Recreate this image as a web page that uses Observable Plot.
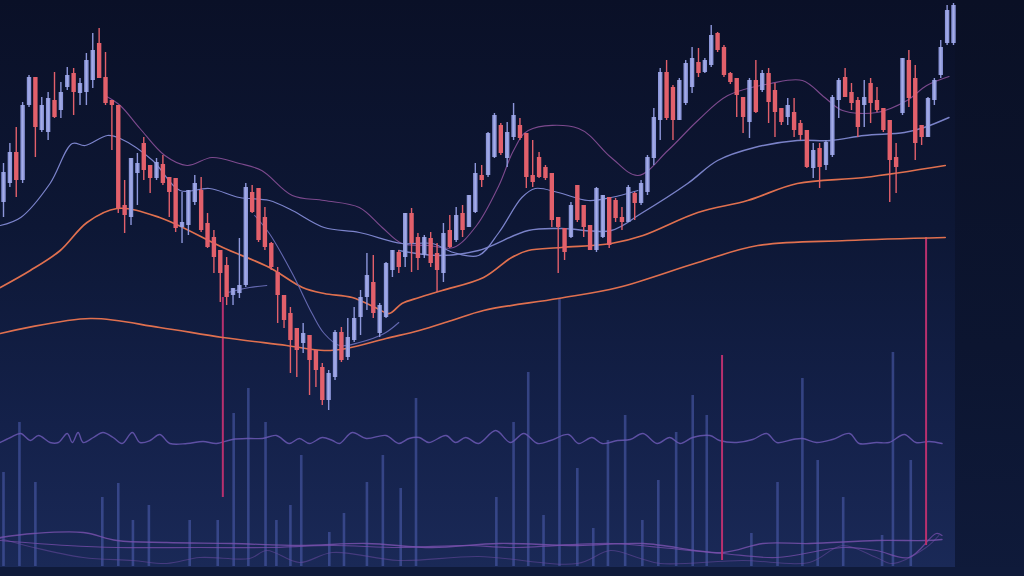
<!DOCTYPE html>
<html><head><meta charset="utf-8">
<script src="https://cdn.jsdelivr.net/npm/d3@7"></script>
<script src="https://cdn.jsdelivr.net/npm/@observablehq/plot@0.6"></script>
<style>
html,body{margin:0;padding:0;background:#0a1026;}
#wrap{position:relative;width:1024px;height:576px;overflow:hidden;background:linear-gradient(180deg,#0a1025 0%,#0c1530 60%,#0f1a3a 100%);}
#panel{position:absolute;left:0;top:0;width:955px;height:567px;background:linear-gradient(180deg,#0a1027 0%,#0d1735 40%,#14214a 75%,#1a2957 100%);}
#bottom{position:absolute;left:0;top:567px;width:1024px;height:9px;background:#0f1a3a;}
svg.layer{position:absolute;left:0;top:0;}
</style></head><body><div id="wrap"><div id="panel"></div><div id="bottom"></div></div>
<script>
// ---- candles (index 0..149) ----
const open = [374,393,424,396,471,499,446,444,476,466, 489,503,483,484,496,533,499,476,471,371,
 359,403,433,411,398,412,399,398,349,351, 374,386,353,339,326,311,281,283,291,384,
 388,359,333,304,281,263,248,233,241,226, 209,176,199,244,219,236,259,279,294,243,
 259,306,324,319,363,339,321,338,323,303, 346,336,363,349,364,401,401,419,451,418,
 439,451,443,401,419,409,403,359,348,339, 391,371,351,326,339,379,376,359,354,383,
 373,384,418,456,504,489,456,473,489,514, 504,511,543,529,503,498,479,454,496,486,
 503,486,468,459,464,453,446,408,428,411, 421,476,499,484,476,471,493,476,468,456,
 419,463,516,498,451,439,476,501,533,533];
const high = [413,433,449,474,501,499,479,484,504,494, 509,508,498,523,543,548,524,476,471,396,
 418,423,439,411,418,421,399,398,384,386, 401,399,363,346,326,319,288,338,393,391,
 388,369,334,309,281,269,248,253,241,226, 213,206,246,249,258,269,286,323,321,273,
 314,326,326,363,368,343,341,344,333,353, 361,369,371,381,413,411,444,463,453,454,
 473,458,443,436,424,411,403,359,348,374, 391,371,351,389,381,379,378,369,391,384,
 396,421,468,508,516,491,498,516,529,528, 518,551,544,531,504,498,479,498,516,506,
 508,493,468,478,478,456,446,433,433,436, 481,498,508,493,479,496,498,489,468,456,
 433,518,526,511,451,479,498,536,571,573];
const low = [359,389,379,393,469,419,444,436,458,458, 486,461,471,471,488,498,471,426,363,343,
 351,371,396,383,396,391,359,344,333,341, 371,344,328,303,274,271,271,278,289,363,
 334,326,306,253,248,203,199,223,181,189, 171,166,196,214,216,234,241,266,258,239,
 258,299,303,309,304,306,318,309,284,294, 328,334,339,349,363,389,399,418,421,409,
 436,436,388,389,398,396,349,303,316,338, 354,339,326,324,338,328,354,346,354,356,
 371,381,411,436,456,436,456,471,483,499, 503,509,524,499,492,459,443,438,463,484,
 453,439,451,451,439,436,408,398,388,406, 419,458,479,466,439,449,453,464,444,374,
 383,461,469,416,431,439,471,498,531,531];
const close = [404,424,396,471,499,449,471,478,459,484, 501,484,493,516,526,498,473,471,368,361,
 418,413,406,398,414,393,384,348,354,386, 393,346,329,319,303,279,288,291,389,364,
 336,329,309,281,256,236,226,243,216,206, 176,203,244,216,239,258,279,301,263,271,
 313,326,309,363,333,318,339,313,306,343, 329,361,346,381,403,396,443,461,423,444,
 461,438,399,394,399,398,356,349,324,371, 356,349,326,388,381,331,358,354,389,373,
 393,419,459,504,458,456,496,513,518,503, 516,541,526,501,494,481,459,496,464,503,
 474,464,454,471,446,441,409,426,409,434, 479,496,479,473,449,479,473,466,446,416,
 409,518,478,433,439,478,496,529,566,571];

// ---- moving averages / bands (x = bar index, y = price) ----
const maSlowT = [-0.5,13.6,24.5,34.4,44.4,50.3,53.8,60,65.2,70.3,75.3,87,96.4,108.9,118.3,132.3,147.7];
const maSlowV = [243,258,249,239,231,226,228,238,246,256,266,278,289,314,331,336,339];
const maMidT = [-0.5,4.2,8.9,13.1,17.8,24.5,34.4,41.7,46.9,50.3,54.7,58.6,60.5,62.5,65.2,68.8,75.3,79.7,82.3,87.5,95.3,100.3,108.9,116.7,124.5,135,147.7];
const maMidV = [289,306,326,354,368,359,329,309,289,283,279,268,263,273,279,286,299,319,326,329,333,341,364,376,393,399,411];
const upperT = [15.9,18.3,21.4,25.3,28.8,32.7,37,40.5,45.3,50.3,55.8,59.4,62.5,66.7,70.6,74.2,77.7,80,82.3,90.2,95.3,99.5,104.2,108.9,113.6,120.3,125.3,128.8,131.6,137,141.7,144.8,148.3];
const upperV = [481,471,448,421,411,419,413,406,381,376,369,349,333,331,329,351,391,426,446,448,419,401,426,456,481,493,496,479,466,464,476,491,500];
const fastT = [-0.5,2.7,7.3,10.8,12.8,16.3,18.3,23.4,27.7,32.3,37,41.7,45.3,50.3,55.8,62.5,67.2,70.6,74.5,77.7,81.3,83.4,87,91.7,95.3,99.5];
const fastV = [351,359,393,433,431,441,438,416,386,388,379,376,366,349,344,333,333,324,321,344,379,388,384,376,379,386];
const baseT = [62,68.3,74.5,82.3,87.5,95.3,100,107.3,112,117.8,124.5,129.7,135,141.3,144.4,148.3];
const baseV = [326,321,326,346,348,346,363,393,416,429,436,436,441,444,449,459];
const lowerT = [39.4,41.7,45.3,48.4,50.3,52.7,55.8,59.7,62];
const lowerV = [361,343,303,263,243,231,234,243,254];
const lower2T = [35.2,38.6,41.3];
const lower2V = [284,289,291];

// ---- spikes ----
const spikeT = [34.4,112.7,144.7];
const spikeHi = [279,221,339];
const spikeLo = [79,16,31];

// ---- volume ----
const volT = [0,2.5,5,15.5,18,20.3,22.8,29.2,33.6,36.1,38.4,41.1,42.8,45,46.7,51.1,53.4,57,59.5,62.3,64.7,77.3,80,82.3,84.7,87.2,90,92.5,94.8,97.5,100.2,102.7,105.5,108.1,110.3,117.3,121.4,125.3,127.7,131.7,137.8,139.5,142.3];
const volV = [94,144,84,69,83,46,61,46,46,153,178,144,46,61,111,34,53,84,111,78,168,69,144,194,51,268,98,38,126,151,46,86,134,171,151,33,84,188,106,69,31,214,106];

// ---- oscillator ----
const oscT = [-0.5,1.1,2.7,4.2,5.5,7.3,8.6,10,10.8,11.7,12.5,14.1,15.6,17.2,18.6,20.2,21.4,23,24.5,26.1,28.8,31.3,33.4,35.9,38.6,40.6,42.8,44.8,46.4,48,50,51.6,52.7,54.7,56.9,60,62,63.6,65.2,66.7,69.4,70.9,72.5,74.5,77.2,79.5,81.6,83.8,85.8,88.6,90.2,92.3,93.9,96.3,98.3,100.3,102.5,104.5,106.1,108.1,110.8,112.3,115,117.5,119.7,121.3,123.8,125.3,127.5,130,132.7,134.2,136.9,138.9,141.3,143.1,145.2,147.2];
const oscV = [4,9,13,6,11,4,4,13,4,14,4,9,14,9,3,14,4,6,12,3,3,5,3,7,8,8,11,3,8,3,9,6,3,14,8,11,3,8,9,4,11,4,9,3,16,4,13,3,6,12,3,9,3,6,7,13,3,9,3,9,11,6,4,7,13,4,7,8,4,7,13,3,4,4,12,4,5,3];

// ---- lower indicator lines ----
const ind1T = [-0.5,4.7,12.5,17.8,25.6,35.9,46.4,56.9,67.2,77.7,90,100.3,112.8,119.1,126.4,136.9,144.7,147.2];
const ind1V = [29,33,34,26,24,23,21,23,19,23,21,23,14,23,23,26,26,27];
const ind2T = [-0.5,10,17.8,30.8,41.3,51.6,62,72.5,79.5,95.2,103,112.8,121.3,131.6,136.9,142,146.3,147.2];
const ind2V = [26,21,19,19,19,21,19,21,19,23,19,13,9,19,16,9,33,31];
const ind3T = [-0.5,4.7,12.5,20.3,25.6,30.8,38.6,41.3,46.4,51.6,62,74.5,90,95.2,99.4,103,115.9,126.4,131.6,136.9,139.4,144.7,146.7];
const ind3V = [28,19,9,6,3,9,8,16,4,14,6,10,3,16,9,3,6,4,21,9,3,19,31];

// ---- build ----
const W = 1024, H = 576;
const X = {domain: [0, 149], range: [3, 953], axis: null};
const wrap = document.getElementById("wrap");
const pts = (T, V) => T.map((t, i) => ({t, v: V[i]}));
function layer(y, marks) {
  const svg = Plot.plot({width: W, height: H, margin: 0, x: X, y: {...y, axis: null},
    style: {background: "transparent", overflow: "visible"}, marks});
  svg.setAttribute("class", (svg.getAttribute("class") || "") + " layer");
  wrap.appendChild(svg);
}
const bars = open.map((o, i) => ({i, o, h: high[i], l: low[i], c: close[i]}));
const ups = bars.filter(d => d.c >= d.o), downs = bars.filter(d => d.c < d.o);
const BLUE = "#8d97db", RED = "#e2606b";

// volume
layer({domain: [0, 300], range: [566, 266]}, [
  Plot.ruleX(pts(volT, volV), {x: "t", y1: () => 0, y2: "v", stroke: "#5060b4", strokeOpacity: 0.55, strokeWidth: 2.6})
]);
// lower indicators
layer({domain: [0, 60], range: [566, 506]}, [
  Plot.line(pts(ind3T, ind3V), {x: "t", y: "v", curve: "catmull-rom", stroke: "#6a4aa0", strokeOpacity: 0.55, strokeWidth: 1.1}),
  Plot.line(pts(ind2T, ind2V), {x: "t", y: "v", curve: "catmull-rom", stroke: "#7a4fae", strokeOpacity: 0.75, strokeWidth: 1.2}),
  Plot.line(pts(ind1T, ind1V), {x: "t", y: "v", curve: "catmull-rom", stroke: "#7c52b0", strokeOpacity: 0.8, strokeWidth: 1.3})
]);
// oscillator
layer({domain: [0, 20], range: [446, 426]}, [
  Plot.line(pts(oscT, oscV), {x: "t", y: "v", curve: "catmull-rom", stroke: "#6b58b4", strokeOpacity: 0.85, strokeWidth: 1.4})
]);
// price
layer({domain: [0, 576], range: [576, 0]}, [
  Plot.ruleX(spikeT.map((t, i) => ({t, a: spikeLo[i], b: spikeHi[i]})), {x: "t", y1: "a", y2: "b", stroke: "#b8306e", strokeWidth: 2}),
  Plot.line(pts(maSlowT, maSlowV), {x: "t", y: "v", curve: "catmull-rom", stroke: "#e0704f", strokeWidth: 1.7}),
  Plot.line(pts(maMidT, maMidV), {x: "t", y: "v", curve: "catmull-rom", stroke: "#e0704f", strokeWidth: 1.7}),
  Plot.line(pts(upperT, upperV), {x: "t", y: "v", curve: "catmull-rom", stroke: "#7d4a8e", strokeWidth: 1.1}),
  Plot.line(pts(baseT, baseV), {x: "t", y: "v", curve: "catmull-rom", stroke: "#7a82c8", strokeWidth: 1.4}),
  Plot.line(pts(fastT, fastV), {x: "t", y: "v", curve: "catmull-rom", stroke: "#7c84cc", strokeWidth: 1.2}),
  Plot.line(pts(lowerT, lowerV), {x: "t", y: "v", curve: "catmull-rom", stroke: "#6468b0", strokeWidth: 1.1}),
  Plot.line(pts(lower2T, lower2V), {x: "t", y: "v", curve: "catmull-rom", stroke: "#6468b0", strokeWidth: 1.1}),
  Plot.ruleX(downs, {x: "i", y1: "l", y2: "h", stroke: RED, strokeWidth: 1.4}),
  Plot.ruleX(ups, {x: "i", y1: "l", y2: "h", stroke: BLUE, strokeWidth: 1.4}),
  Plot.ruleX(downs, {x: "i", y1: "o", y2: "c", stroke: RED, strokeWidth: 4.4}),
  Plot.ruleX(ups, {x: "i", y1: "o", y2: "c", stroke: BLUE, strokeWidth: 4.4}),
  Plot.ruleX(ups, {x: "i", y1: "o", y2: "c", stroke: "#b9c0f0", strokeOpacity: 0.55, strokeWidth: 1.4})
]);
</script></body></html>
